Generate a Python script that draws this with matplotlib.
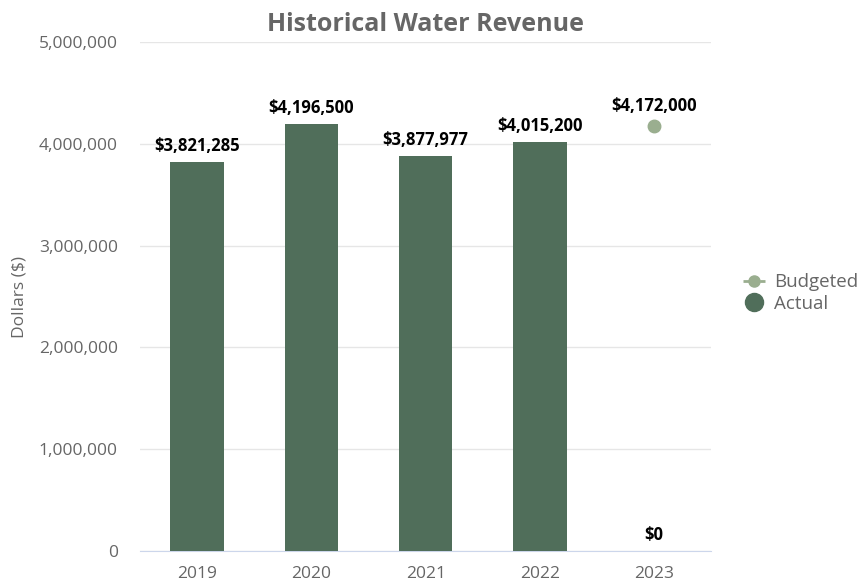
import numpy as np
import matplotlib.pyplot as plt
from matplotlib.lines import Line2D
from matplotlib.ticker import FuncFormatter

plt.rcParams['font.family'] = ['Open Sans', 'DejaVu Sans']

years = ['2019', '2020', '2021', '2022', '2023']
actual = [3821285, 4196500, 3877977, 4015200, 0]
budget_year = ['2023']
budgeted = [4172000]

bar_color = '#506e5a'
dot_color = '#9aae8f'
text_gray = '#666666'

fig = plt.figure(figsize=(8.66, 5.86), dpi=100)
ax = fig.add_axes([0.1617, 0.0597, 0.6596, 0.8686])

x = np.arange(len(years))
ax.bar(x, actual, width=0.47, color=bar_color, zorder=3)
for xi, v in zip(x, actual):
    ax.annotate('${:,.0f}'.format(v), (xi, v), xytext=(0, 5), textcoords='offset points',
                ha='center', va='bottom', fontsize=12, fontweight='bold', color='black', zorder=5)

bx = [years.index(y) for y in budget_year]
ax.plot(bx, budgeted, 'o', color=dot_color, markersize=9, zorder=4)
for xi, v in zip(bx, budgeted):
    ax.annotate('${:,.0f}'.format(v), (xi, v), xytext=(0, 8), textcoords='offset points',
                ha='center', va='bottom', fontsize=12, fontweight='bold', color='black', zorder=5)

ax.set_xlim(-0.5, len(years) - 0.5)
ax.set_ylim(0, 5000000)
ax.set_yticks(np.arange(0, 5000001, 1000000))
ax.yaxis.set_major_formatter(FuncFormatter(lambda v, p: '{:,.0f}'.format(v)))
ax.set_xticks(x)
ax.set_xticklabels(years)
ax.grid(axis='y', color='#e6e6e6', linewidth=1, zorder=0)
for s in ['top', 'right', 'left']:
    ax.spines[s].set_visible(False)
ax.spines['bottom'].set_color('#ccd6eb')
ax.tick_params(axis='both', length=0, labelsize=12.5, colors=text_gray)
ax.tick_params(axis='y', pad=16)
ax.tick_params(axis='x', pad=11)
ax.set_ylabel('Dollars ($)', fontsize=12.5, color=text_gray, labelpad=8)

ax.set_title('Historical Water Revenue', fontsize=18, fontweight='bold', color=text_gray, pad=8)

handles = [
    Line2D([0], [0], color=dot_color, linestyle=(0, (2, 1)), linewidth=2,
           marker='o', markersize=8),
    Line2D([0], [0], color=bar_color, linestyle='none', marker='o', markersize=13),
]
fig.legend(handles, ['Budgeted', 'Actual'], loc='center left', bbox_to_anchor=(0.838, 0.5),
           frameon=False, fontsize=13.5, labelcolor=text_gray, handlelength=1.2,
           handletextpad=0.5, labelspacing=0.2)

fig.savefig('out.png', dpi=100)
